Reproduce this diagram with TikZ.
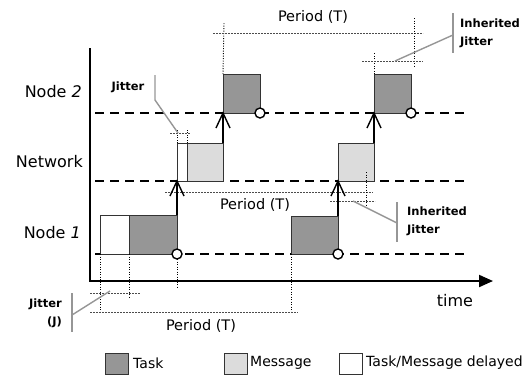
\documentclass[tikz,border=0pt]{standalone}
\usepackage{fontspec}
\setmainfont{DejaVu Sans}
\usetikzlibrary{arrows.meta}
\definecolor{taskgray}{RGB}{150,150,150}
\definecolor{msggray}{RGB}{220,220,220}
\definecolor{leadgray}{RGB}{150,150,150}
\begin{document}
\begin{tikzpicture}[x=1pt,y=-1pt,
  bx/.style={draw=black!80, line width=0.9pt, anchor=south west, inner sep=0pt, outer sep=0pt},
  tbox/.style={bx, fill=taskgray},
  mbox/.style={bx, fill=msggray},
  dbox/.style={bx, fill=white},
  lane/.style={line width=1.8pt, dash pattern=on 9pt off 6pt},
  arr/.style={line width=1.7pt},
  barb/.style={line width=1.4pt, line join=miter},
  endc/.style={circle, draw=black, fill=white, line width=1.4pt, minimum size=10pt, inner sep=0pt},
  dotv/.style={line width=0.9pt, dash pattern=on 1pt off 1.5pt},
  guide/.style={line width=0.6pt, draw=black!70, dash pattern=on 2pt off 1pt},
  lead/.style={line width=1.4pt, draw=leadgray},
  lbl/.style={font=\fontsize{16}{19}\selectfont, inner sep=0pt},
  per/.style={font=\fontsize{14.5}{17}\selectfont, inner sep=0pt},
  jit/.style={font=\fontsize{11.5}{18}\selectfont\bfseries, inner sep=0pt},
  leg/.style={font=\fontsize{14}{17}\selectfont, inner sep=0pt, anchor=west},
]
\useasboundingbox (0,0) rectangle (530,376);

% lanes
\coordinate (n2a) at (95,113); \coordinate (n2b) at (467,113);
\coordinate (nwa) at (95,181); \coordinate (nwb) at (467,181);
\coordinate (n1a) at (95,254); \coordinate (n1b) at (467,254);
\draw[lane] (n2a) -- (n2b);
\draw[lane] (nwa) -- (nwb);
\draw[lane] (n1a) -- (n1b);

% axes
\coordinate (ytop) at (90,48); \coordinate (O) at (90,281); \coordinate (xend) at (493,281);
\draw[line width=2pt, line join=miter, -{Triangle[length=14pt,width=12pt]}] (ytop) -- (O) -- (xend);

% labels
\node[lbl, anchor=east] (lN2) at (82,92) {Node \textit{2}};
\node[lbl, anchor=east] (lNW) at (83,162) {Network};
\node[lbl, anchor=east] (lN1) at (81,233) {Node \textit{1}};
\node[lbl] (ltime) at (455,301) {time};

% boxes
\node[dbox, minimum width=29pt, minimum height=39pt] (d1) at (100,254) {};
\node[tbox, minimum width=48pt, minimum height=39pt] (t1) at (129,254) {};
\node[tbox, minimum width=47pt, minimum height=38pt] (t2) at (291,254) {};
\node[dbox, minimum width=10pt, minimum height=38pt] (d2) at (177,181) {};
\node[mbox, minimum width=36pt, minimum height=38pt] (m1) at (187,181) {};
\node[mbox, minimum width=36pt, minimum height=38pt] (m2) at (338,181) {};
\node[tbox, minimum width=37pt, minimum height=39pt] (t3) at (223,113) {};
\node[tbox, minimum width=37pt, minimum height=39pt] (t4) at (374,113) {};

% dotted guides
\coordinate (g1) at (100,313); \coordinate (g2) at (129,298); \coordinate (g3) at (177,287); \coordinate (g4) at (291,313);
\draw[dotv] (d1.south west) -- (g1);
\draw[dotv] (t1.south west) -- (g2);
\draw[dotv] (t1.south east) -- (g3);
\draw[dotv] (t2.south west) -- (g4);
\coordinate (g5) at (177,128); \coordinate (g6) at (187,128);
\draw[dotv] (d2.north west) -- (g5);
\draw[dotv] (m1.north west) -- (g6);
\draw[guide] (170,133) -- (191,133);
\coordinate (g7) at (224,22);
\draw[dotv] (t3.north west) -- (g7);
\draw[guide] (213,33) -- (423,33);
\draw[dotv] (414,18) -- (414,67);
\coordinate (g8) at (374,52);
\draw[dotv] (t4.north west) -- (g8);
\draw[guide] (362,61) -- (423,61);
\draw[guide] (165,192) -- (373,192);
\draw[dotv] (366,172) -- (366,207);
\draw[guide] (330,201) -- (375,201);
\draw[guide] (90,293) -- (140,293);
\draw[guide] (90,312) -- (298,312);

% arrows (shaft + open barb head)
\draw[arr] (t1.north east) -- (d2.south west);
\draw[barb] (d2.south west) ++(-7,15) -- (d2.south west) -- ++(7,15);
\draw[arr] (m1.north east) -- (t3.south west);
\draw[barb] (t3.south west) ++(-7,15) -- (t3.south west) -- ++(7,15);
\draw[arr] (t2.north east) -- (m2.south west);
\draw[barb] (m2.south west) ++(-7,15) -- (m2.south west) -- ++(7,15);
\draw[arr] (m2.north east) -- (t4.south west);
\draw[barb] (t4.south west) ++(-7,15) -- (t4.south west) -- ++(7,15);

% end circles
\node[endc] (c1) at (t1.south east) {};
\node[endc] (c2) at (t2.south east) {};
\node[endc] (c3) at (t3.south east) {};
\node[endc] (c4) at (t4.south east) {};

% period labels
\node[per] (p1) at (313,17) {Period (T)};
\node[per] (p2) at (255,205) {Period (T)};
\node[per] (p3) at (201,326) {Period (T)};

% jitter annotations
\draw[lead] (155,75) -- (155,100) -- (178,133);
\node[jit] (j1) at (128,87) {Jitter};
\draw[lead] (395,61) -- (453,35);
\draw[lead] (453,13) -- (453,53);
\node[jit, anchor=west, align=left] (j2) at (460,33.5) {Inherited\\Jitter};
\draw[lead] (353,201) -- (397,223);
\draw[lead] (397,202) -- (397,242);
\node[jit, anchor=west, align=left] (j3) at (407,221.5) {Inherited\\Jitter};
\draw[lead] (110,291) -- (72,315);
\draw[lead] (72,293) -- (72,332);
\node[jit, anchor=east, align=right] (j4) at (62,313) {Jitter\\(J)};

% legend
\node[tbox, minimum width=23pt, minimum height=21pt] (k1) at (105,374) {};
\node[leg] (kt1) at (133,363) {Task};
\node[mbox, minimum width=23pt, minimum height=21pt] (k2) at (224,374) {};
\node[leg] (kt2) at (250,363) {Message};
\node[dbox, minimum width=23pt, minimum height=21pt] (k3) at (339,374) {};
\node[leg] (kt3) at (366,363) {Task/Message delayed};
\end{tikzpicture}
\end{document}
